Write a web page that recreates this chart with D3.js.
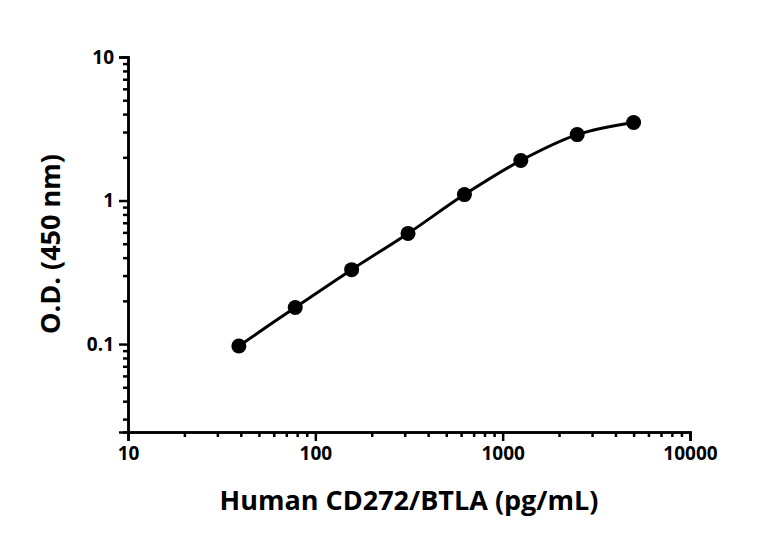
<!DOCTYPE html>
<html><head><meta charset="utf-8">
<script src="https://cdn.jsdelivr.net/npm/d3@7"></script>
<style>body{margin:0;background:#fff}svg{display:block}text{font-family:"Open Sans",Lato,sans-serif}</style>
</head><body>
<svg id="c" width="768" height="543"></svg>
<script>
const concentrations=[39.0625,78.125,156.25,312.5,625,1250,2500,5000];
const odValues=[0.097,0.18,0.33,0.59,1.10,1.90,2.88,3.50];
const xTicks=[10,100,1000,10000];
const yTicks=[0.1,1,10];
const xTitle="Human CD272/BTLA (pg/mL)";
const yTitle="O.D. (450 nm)";

const svg=d3.select("#c");
const x=d3.scaleLog().domain([10,10000]).range([128,690]);
const y=d3.scaleLog().domain([0.0244,10]).range([432,57]);

function minors(lo,hi){const a=[];for(let d=lo;d<hi;d*=10)for(let k=2;k<10;k++)a.push(d*k);return a;}

const xa=svg.append("g").attr("transform","translate(0,432)");
xa.call(d3.axisBottom(x).tickValues(xTicks).tickFormat(d3.format("d")).tickSize(9).tickPadding(6));
xa.append("g").call(d3.axisBottom(x).tickValues(minors(10,10000)).tickFormat("").tickSize(5));
const ya=svg.append("g").attr("transform","translate(128,0)");
ya.call(d3.axisLeft(y).tickValues(yTicks).tickFormat(d=>String(d)).tickSize(9).tickPadding(5));
ya.append("g").call(d3.axisLeft(y).tickValues(minors(0.01,10).filter(v=>v>=0.0244)).tickFormat("").tickSize(5));
svg.selectAll(".domain,.tick line").attr("stroke","#000").attr("stroke-width",2.5);
svg.selectAll(".tick text").attr("font-size",19).attr("font-weight","bold").attr("fill","#000");

svg.append("path").datum(concentrations.map((c,i)=>[c,odValues[i]]))
 .attr("d",d3.line().x(d=>x(d[0])).y(d=>y(d[1])).curve(d3.curveCatmullRom))
 .attr("fill","none").attr("stroke","#000").attr("stroke-width",3);
svg.selectAll("circle.p").data(concentrations).enter().append("circle")
 .attr("cx",d=>x(d)).attr("cy",(d,i)=>y(odValues[i])).attr("r",7.5).attr("fill","#000");

svg.append("text").attr("x",409).attr("y",510).attr("text-anchor","middle")
 .attr("font-size",27).attr("font-weight","bold").text(xTitle);
svg.append("text").attr("transform","translate(60,244) rotate(-90)").attr("text-anchor","middle")
 .attr("font-size",27).attr("font-weight","bold").text(yTitle);
</script>
</body></html>
